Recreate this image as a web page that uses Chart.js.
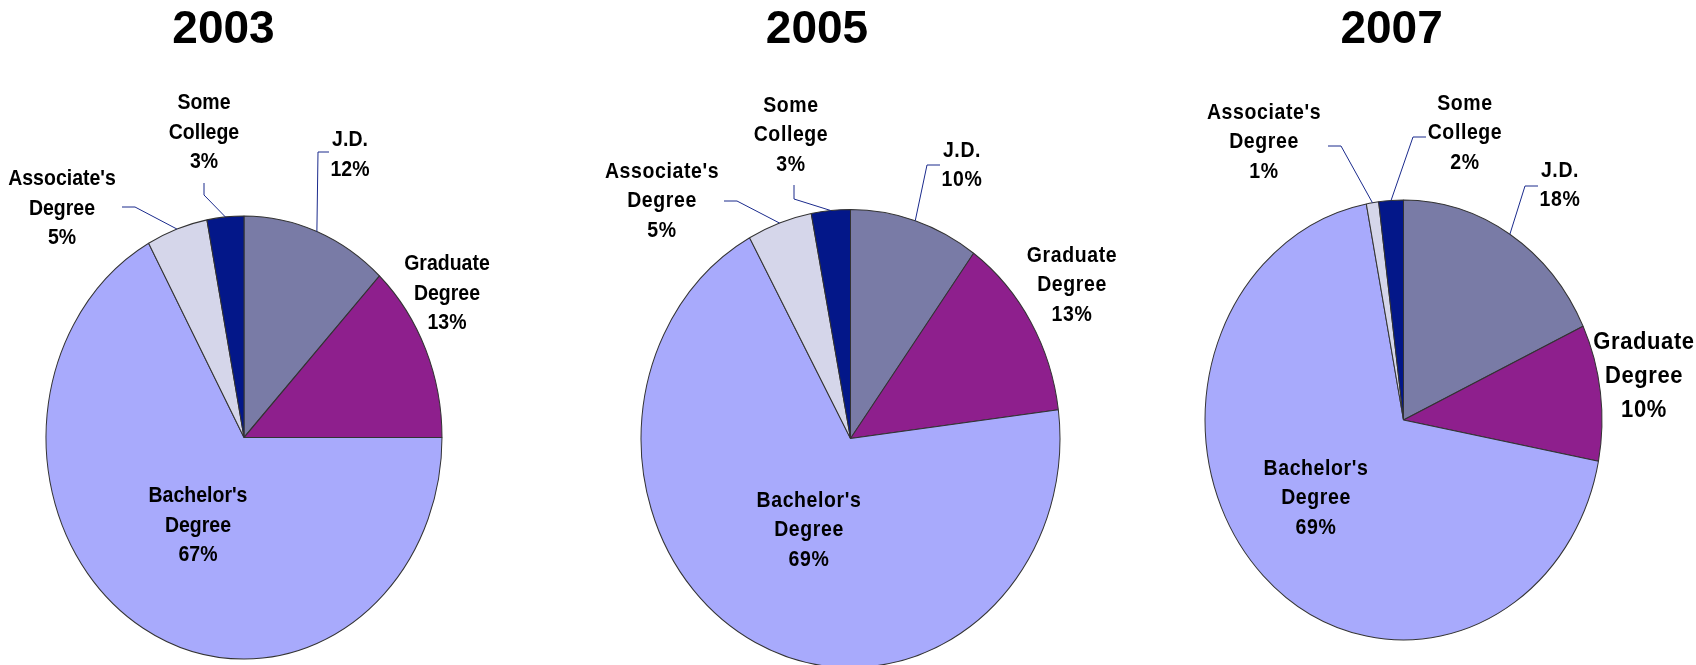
<!DOCTYPE html>
<html>
<head>
<meta charset="utf-8">
<script src="https://cdn.jsdelivr.net/npm/chart.js@4.4.0/dist/chart.umd.min.js"></script>
<style>
  html, body { margin: 0; padding: 0; background: #fff; overflow: hidden; }
  #wrap { position: relative; width: 1696px; height: 665px; }
  #wrap canvas { position: absolute; left: 0; top: 0; }
</style>
</head>
<body>
<div id="wrap">
  <canvas id="pie0" width="1696" height="665"></canvas>
  <canvas id="pie1" width="1696" height="665"></canvas>
  <canvas id="pie2" width="1696" height="665"></canvas>
</div>
<script>
// highest education level, share of respondents per survey year
const categories = ['J.D.', 'Graduate Degree', "Bachelor's Degree", "Associate's Degree", 'Some College'];
const years = ['2003', '2005', '2007'];
const share2003 = [12, 13, 67, 5, 3];
const share2005 = [10, 13, 69, 5, 3];
const share2007 = [18, 10, 69, 1, 2];
const shares = [share2003, share2005, share2007];

const sliceColors = ['#797BA6', '#8E1F8D', '#A8AAFC', '#D5D6EA', '#031789'];

const W = 1696, H = 665;
const FONT = '"Liberation Sans", Arial, sans-serif';

// placement of each pie (centre, radius, vertical stretch) and its labels
const layouts = [
  { cx: 244, cy: 437.5, r: 198, stretch: 1.119, titleX: 223.5, spacing: '0px',
    labels: [
      { x: 350, y: 140, lead: [[329, 152], [318, 152]] },
      { x: 447, y: 264 },
      { x: 198, y: 496 },
      { x: 62,  y: 179, lead: [[122, 207], [135, 207]] },
      { x: 204, y: 103, lead: [[204, 183], [204, 195]] }
    ] },
  { cx: 850.5, cy: 438.5, r: 209.5, stretch: 1.093, titleX: 817, spacing: '0.6px',
    labels: [
      { x: 962,  y: 151, lead: [[940, 165], [927, 165]] },
      { x: 1072, y: 256 },
      { x: 809,  y: 501 },
      { x: 662,  y: 172, lead: [[724, 201], [737, 201]] },
      { x: 791,  y: 106, lead: [[794, 185], [794, 199]] }
    ] },
  { cx: 1403.5, cy: 420, r: 198.5, stretch: 1.108, titleX: 1391.6, spacing: '0.6px',
    labels: [
      { x: 1560, y: 171, lead: [[1538, 186], [1525, 186]] },
      { x: 1644, y: 342, size: 22, gap: 34 },
      { x: 1316, y: 469 },
      { x: 1264, y: 113, lead: [[1328, 146], [1341, 146]] },
      { x: 1465, y: 104, lead: [[1426, 137], [1413, 137]] }
    ] }
];

function stretchedText(ctx, text, x, y, k) {
  ctx.save();
  ctx.translate(x, y);
  ctx.scale(1, k);
  ctx.fillText(text, 0, 0);
  ctx.restore();
}

// squashes the round pie into the tall oval and draws title, labels, leader lines
function decorPlugin(L, year, values) {
  return {
    id: 'decor' + year,
    beforeDatasetsDraw(chart) {
      const ctx = chart.ctx;
      const arc = chart.getDatasetMeta(0).data[0];
      ctx.save();
      ctx.translate(0, arc.y);
      ctx.scale(1, L.stretch);
      ctx.translate(0, -arc.y);
    },
    afterDatasetsDraw(chart) {
      chart.ctx.restore();
    },
    afterDraw(chart) {
      const ctx = chart.ctx;
      const arcs = chart.getDatasetMeta(0).data;
      ctx.save();
      ctx.fillStyle = '#000';
      ctx.textAlign = 'center';
      ctx.textBaseline = 'alphabetic';
      ctx.font = 'bold 46px ' + FONT;
      ctx.fillText(year, L.titleX, 43);

      arcs.forEach((arc, i) => {
        const lab = L.labels[i];
        const p = arc.getProps(['x', 'y', 'startAngle', 'endAngle', 'outerRadius'], true);
        if (lab.lead) {
          const mid = (p.startAngle + p.endAngle) / 2;
          const rx = p.x + Math.cos(mid) * p.outerRadius;
          const ry = p.y + Math.sin(mid) * p.outerRadius * L.stretch;
          ctx.strokeStyle = '#1a2a8c';
          ctx.lineWidth = 1;
          ctx.beginPath();
          ctx.moveTo(lab.lead[0][0], lab.lead[0][1]);
          ctx.lineTo(lab.lead[1][0], lab.lead[1][1]);
          ctx.lineTo(rx, ry);
          ctx.stroke();
        }
        const lines = categories[i] === 'J.D.' ? ['J.D.'] : categories[i].split(' ');
        lines.push(values[i] + '%');
        const size = lab.size || 19.5;
        const gap = lab.gap || 29.5;
        ctx.font = 'bold ' + size + 'px ' + FONT;
        ctx.letterSpacing = L.spacing;
        ctx.textBaseline = 'middle';
        lines.forEach((t, j) => stretchedText(ctx, t, lab.x, lab.y + j * gap, L.stretch));
      });
      ctx.restore();
    }
  };
}

years.forEach((year, i) => {
  const L = layouts[i];
  const values = shares[i];
  new Chart(document.getElementById('pie' + i), {
    type: 'pie',
    data: {
      labels: categories,
      datasets: [{
        data: values,
        backgroundColor: sliceColors,
        borderColor: '#333',
        borderWidth: 1,
        clip: false
      }]
    },
    options: {
      responsive: false,
      animation: false,
      events: [],
      radius: L.r,
      layout: { padding: { left: L.cx - L.r, right: W - L.cx - L.r, top: L.cy - L.r, bottom: H - L.cy - L.r } },
      plugins: { legend: { display: false }, tooltip: { enabled: false } }
    },
    plugins: [decorPlugin(L, year, values)]
  });
});
</script>
</body>
</html>
